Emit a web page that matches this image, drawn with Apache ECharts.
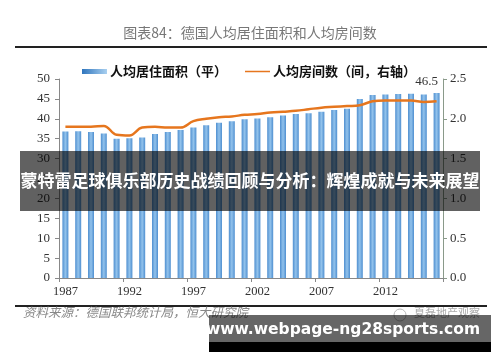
<!DOCTYPE html>
<html><head><meta charset="utf-8">
<script src="https://cdn.jsdelivr.net/npm/echarts@6/dist/echarts.min.js"></script>
<style>html,body{margin:0;padding:0;background:#fff}#c{width:500px;height:362px}</style>
</head><body><div id="c"></div>
<script>
const years = ['1987','1988','1989','1990','1991','1992','1993','1994','1995','1996','1997','1998','1999','2000','2001','2002','2003','2004','2005','2006','2007','2008','2009','2010','2011','2012','2013','2014','2015','2016'];
const livingArea = [36.8,36.9,36.7,36.3,35.0,35.1,35.3,36.2,36.7,37.2,37.8,38.4,39.0,39.4,39.9,40.1,40.4,40.8,41.2,41.4,41.8,42.2,42.5,45.0,46.0,46.1,46.2,46.3,46.1,46.5];
const rooms = [1.90,1.90,1.90,1.91,1.80,1.79,1.89,1.90,1.89,1.89,1.97,2.00,2.02,2.03,2.05,2.06,2.08,2.09,2.10,2.12,2.14,2.15,2.16,2.17,2.22,2.23,2.23,2.23,2.21,2.22];
const leftTicks = [0,5,10,15,20,25,30,35,40,45,50];
const rightTicks = [0,0.5,1.0,1.5,2.0,2.5];
const names = ['人均居住面积（平）','人均房间数（间，右轴）'];
const titleText = '图表84：德国人均居住面积和人均房间数';
const sourceText = '资料来源：德国联邦统计局，恒大研究院';
const bannerText = '蒙特雷足球俱乐部历史战绩回顾与分析：辉煌成就与未来展望';
const urlText = 'www.webpage-ng28sports.com';
const markText = '夏磊地产观察';

const chart = echarts.init(document.getElementById('c'), null, {renderer:'canvas'});
const serif = '"Liberation Serif","DejaVu Serif",serif';
const cjk = '"Noto Sans CJK SC","Noto Sans",sans-serif';
const barGrad = new echarts.graphic.LinearGradient(0,0,1,0,[
  {offset:0,color:'#4f8fd0'},{offset:0.5,color:'#93c3ec'},{offset:1,color:'#4f8fd0'}]);
chart.setOption({
  animation:false,
  grid:{left:59,right:57,top:79,bottom:84},
  legend:{
    top:60,left:77,itemGap:18,itemWidth:25,itemHeight:5,
    textStyle:{fontFamily:cjk,fontSize:13,fontWeight:'bold',color:'#111',padding:[0,0,0,-2]},
    data:[
      {name:names[0],icon:'rect',itemStyle:{color:new echarts.graphic.LinearGradient(0,0,1,0,[{offset:0,color:'#2f75bd'},{offset:1,color:'#a9d0f0'}])}},
      {name:names[1],icon:'path://M0,0L0.05,0L0.05,0.05L0,0.05Z M0,1.8L25,1.8L25,3.3L0,3.3Z M0,4.95L0.05,4.95L0.05,5L0,5Z',itemStyle:{color:'#e6761e'}}
    ]
  },
  xAxis:{
    type:'category',data:years,boundaryGap:true,
    axisLine:{lineStyle:{color:'#888',width:1}},
    axisTick:{show:true,interval:4,length:4,lineStyle:{color:'#888'}},
    axisLabel:{interval:4,fontFamily:serif,fontSize:12.5,color:'#333',margin:7}
  },
  yAxis:[
    {type:'value',min:0,max:50,interval:5,splitLine:{show:false},
     axisLine:{show:true,lineStyle:{color:'#888'}},
     axisTick:{show:true,length:4,lineStyle:{color:'#888'}},
     axisLabel:{fontFamily:serif,fontSize:13,color:'#333',margin:9}},
    {type:'value',min:0,max:2.5,interval:0.5,splitLine:{show:false},position:'right',
     axisLine:{show:true,lineStyle:{color:'#8a9a8a'}},
     axisTick:{show:true,length:4,lineStyle:{color:'#8a9a8a'}},
     axisLabel:{fontFamily:serif,fontSize:13,color:'#333',margin:7,formatter:v=>v.toFixed(1)}}
  ],
  series:[
    {name:names[0],type:'bar',data:livingArea.map((v,i)=>i===livingArea.length-1?{value:v,label:{show:true,position:'top',offset:[-10,0],formatter:'{c}',fontFamily:serif,fontSize:13,color:'#333'}}:v),
     barWidth:6,itemStyle:{color:barGrad}},
    {name:names[1],type:'line',yAxisIndex:1,data:rooms,smooth:0.4,symbol:'none',
     lineStyle:{color:'#e6761e',width:2.5},itemStyle:{color:'#e6761e'}}
  ],
  graphic:[
    {type:'text',left:'center',top:26,style:{text:titleText,font:'14px '+cjk,fill:'#777'}},
    {type:'line',shape:{x1:15,y1:47,x2:487,y2:47},style:{stroke:'#222',lineWidth:2}},
    {type:'line',shape:{x1:15,y1:306,x2:487,y2:306},style:{stroke:'#222',lineWidth:2}},
    {type:'text',left:23,top:306,style:{text:sourceText,font:'italic 12.5px '+cjk,fill:'#888'}},
    {type:'circle',shape:{cx:400,cy:315,r:6},style:{fill:'none',stroke:'#bbb',lineWidth:1}},
    {type:'text',left:414,top:307,style:{text:markText,font:'11px '+cjk,fill:'#aaa'}},
    {type:'rect',z:100,shape:{x:20,y:151,width:460,height:60},style:{fill:'rgba(0,0,0,0.62)'}},
    {type:'text',z:101,x:250,y:181,style:{text:bannerText,font:'bold 17px '+cjk,fill:'#fff',textAlign:'center',textVerticalAlign:'middle'}},
    {type:'rect',z:100,shape:{x:209,y:315,width:282,height:27},style:{fill:'rgba(0,0,0,0.6)'}},
    {type:'rect',z:100,shape:{x:209,y:342,width:282,height:10},style:{fill:'#000'}},
    {type:'text',z:101,x:343,y:330,style:{text:urlText,font:'bold 15.5px "DejaVu Sans",sans-serif',fill:'#fff',textAlign:'center',textVerticalAlign:'middle'}}
  ]
});
</script></body></html>
